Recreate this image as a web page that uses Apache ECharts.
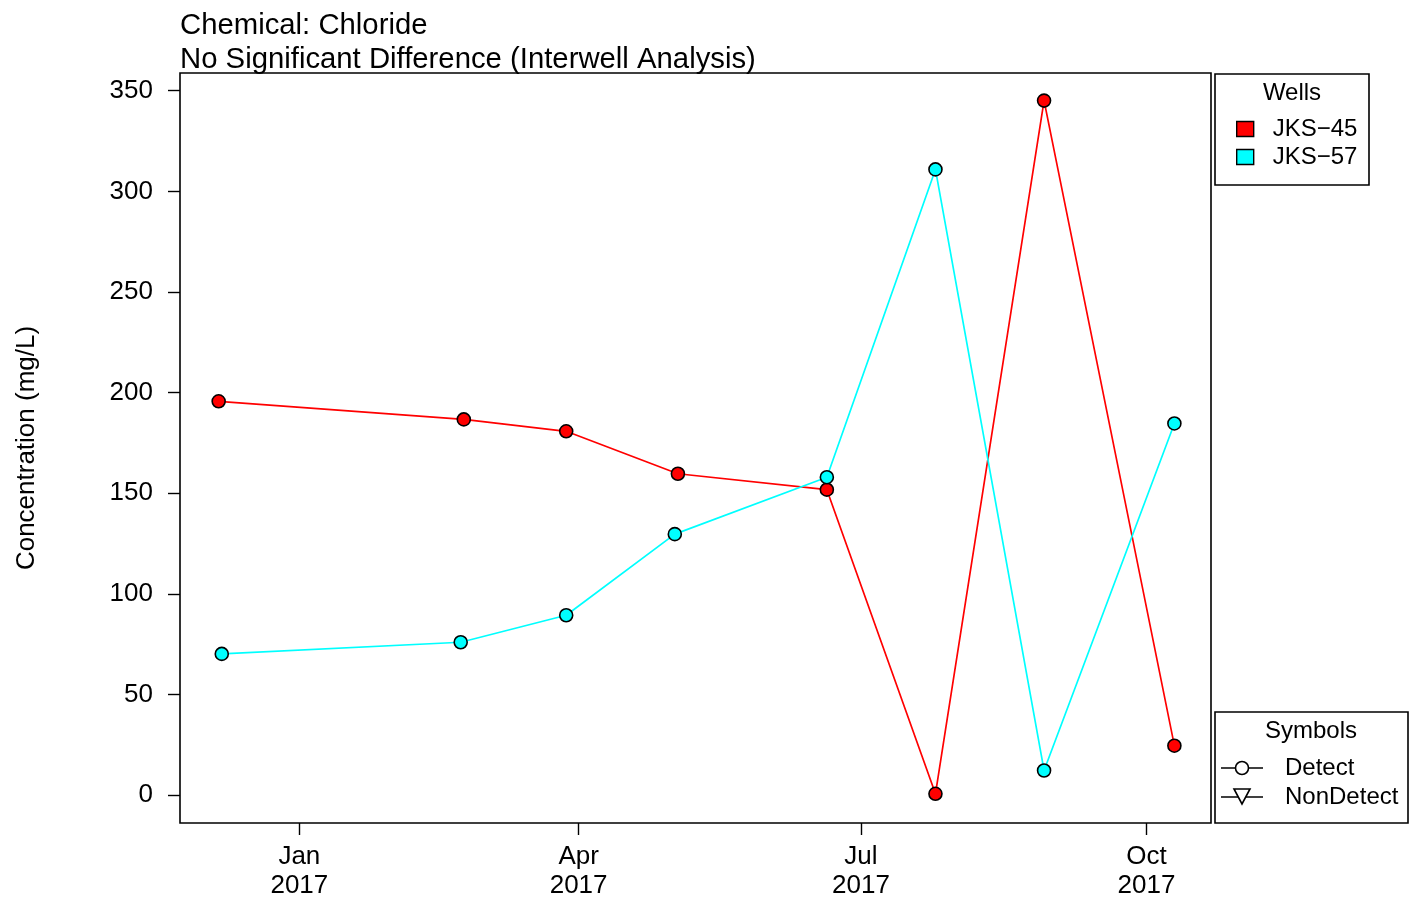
<!DOCTYPE html>
<html>
<head>
<meta charset="utf-8">
<script src="https://cdn.jsdelivr.net/npm/echarts@6/dist/echarts.min.js"></script>
<style>
html,body{margin:0;padding:0;background:#fff;}
#chart{width:1412px;height:898px;}
</style>
</head>
<body>
<div id="chart"></div>
<script>
// ---- data ----
const wellNames = ['JKS\u221245', 'JKS\u221257'];
const jks45Dates = ['2016-12-06','2017-02-23','2017-03-28','2017-05-03','2017-06-20','2017-07-25','2017-08-29','2017-10-10'];
const jks45Values = [195.7, 186.7, 180.8, 159.7, 151.8, 0.7, 345.1, 24.6];
const jks57Dates = ['2016-12-07','2017-02-22','2017-03-28','2017-05-02','2017-06-20','2017-07-25','2017-08-29','2017-10-10'];
const jks57Values = [70.2, 76.0, 89.4, 129.7, 158.0, 310.9, 12.3, 184.7];
const xTickDates = ['2017-01-01','2017-04-01','2017-07-01','2017-10-01'];
const xTickLabels = ['Jan\n2017','Apr\n2017','Jul\n2017','Oct\n2017'];
const yTickValues = [0, 50, 100, 150, 200, 250, 300, 350];
const titleLines = ['Chemical: Chloride', 'No Significant Difference (Interwell Analysis)'];
const yAxisTitle = 'Concentration (mg/L)';
const wellsLegendTitle = 'Wells';
const symbolsLegendTitle = 'Symbols';
const symbolLabels = ['Detect', 'NonDetect'];

// ---- helpers ----
function toMs(s){ const p = s.split('-').map(Number); return Date.UTC(p[0], p[1]-1, p[2]); }
const DAY = 86400000;
const xTickMs = xTickDates.map(toMs);
const xMin = xTickMs[0] - 38.46*DAY;
const xMax = xTickMs[0] + 293.8*DAY;

const FONT = '"Liberation Sans", Arial, Helvetica, sans-serif';

function mkSeries(name, dates, vals, color){
  return {
    name: name,
    type: 'line',
    data: dates.map((d,i)=>[toMs(d), vals[i]]),
    symbol: 'circle',
    symbolSize: 13,
    showSymbol: true,
    lineStyle: {color: color, width: 1.7},
    itemStyle: {color: color, borderColor: '#000', borderWidth: 1.6},
    emphasis: {disabled: true},
    animation: false,
    z: 3
  };
}

const chart = echarts.init(document.getElementById('chart'), null, {renderer: 'canvas'});
chart.setOption({
  animation: false,
  backgroundColor: '#fff',
  textStyle: {fontFamily: FONT},
  title: {
    text: titleLines.join('\n'),
    left: 180, top: 9, padding: 0,
    textStyle: {fontFamily: FONT, fontSize: 29.3, fontWeight: 'normal', color: '#000', lineHeight: 34}
  },
  grid: {
    left: 180, top: 73, right: 201, bottom: 75,
    containLabel: false,
    outerBoundsMode: 'none',
    show: true, borderColor: '#000', borderWidth: 1.6, backgroundColor: 'transparent'
  },
  xAxis: {
    type: 'value',
    min: xMin, max: xMax,
    axisLine: {show: false, onZero: false},
    splitLine: {show: false},
    axisTick: {show: true, customValues: xTickMs, length: 12, lineStyle: {color: '#000', width: 1.4}},
    axisLabel: {
      customValues: xTickMs,
      color: '#000', fontSize: 26, fontFamily: FONT, lineHeight: 29, margin: 19,
      formatter: function(v){
        let best = 0, bd = Infinity;
        xTickMs.forEach((t,i)=>{ const d = Math.abs(t - v); if(d < bd){bd = d; best = i;} });
        return xTickLabels[best];
      }
    }
  },
  yAxis: {
    type: 'value',
    min: -13.8, max: 358.8,
    name: yAxisTitle,
    nameLocation: 'middle',
    nameGap: 140,
    nameTextStyle: {fontSize: 26, fontFamily: FONT, color: '#000'},
    axisLine: {show: false, onZero: false},
    splitLine: {show: false},
    axisTick: {show: true, customValues: yTickValues, length: 12, lineStyle: {color: '#000', width: 1.4}},
    axisLabel: {customValues: yTickValues, color: '#000', fontSize: 26, fontFamily: FONT, margin: 27}
  },
  legend: {
    data: wellNames,
    orient: 'vertical',
    left: 1236, top: 115,
    padding: 0,
    icon: 'rect',
    itemWidth: 17, itemHeight: 15,
    itemGap: 0,
    selectedMode: false,
    itemStyle: {borderColor: '#000', borderWidth: 1.4},
    textStyle: {fontSize: 24, fontFamily: FONT, color: '#000', lineHeight: 28, padding: [0,0,0,14]}
  },
  graphic: [
    {type: 'rect', shape: {x: 1215, y: 74, width: 154, height: 111}, style: {fill: 'none', stroke: '#000', lineWidth: 1.6}, z: 1},
    {type: 'text', x: 1292, y: 93, style: {text: wellsLegendTitle, font: '24px ' + FONT, fill: '#000', align: 'center', verticalAlign: 'middle'}},
    {type: 'rect', shape: {x: 1215, y: 712, width: 193, height: 111}, style: {fill: 'none', stroke: '#000', lineWidth: 1.6}, z: 1},
    {type: 'text', x: 1311, y: 731, style: {text: symbolsLegendTitle, font: '24px ' + FONT, fill: '#000', align: 'center', verticalAlign: 'middle'}},
    {type: 'line', shape: {x1: 1221, y1: 768, x2: 1263, y2: 768}, style: {stroke: '#000', lineWidth: 1.6}},
    {type: 'circle', shape: {cx: 1242, cy: 768, r: 6.5}, style: {fill: '#fff', stroke: '#000', lineWidth: 1.6}, z: 2},
    {type: 'text', x: 1285, y: 768, style: {text: symbolLabels[0], font: '24px ' + FONT, fill: '#000', align: 'left', verticalAlign: 'middle'}},
    {type: 'line', shape: {x1: 1221, y1: 797, x2: 1263, y2: 797}, style: {stroke: '#000', lineWidth: 1.6}},
    {type: 'polygon', shape: {points: [[1234, 789], [1250, 789], [1242, 804]]}, style: {fill: '#fff', stroke: '#000', lineWidth: 1.6}, z: 2},
    {type: 'text', x: 1285, y: 797, style: {text: symbolLabels[1], font: '24px ' + FONT, fill: '#000', align: 'left', verticalAlign: 'middle'}}
  ],
  series: [
    mkSeries(wellNames[0], jks45Dates, jks45Values, '#ff0000'),
    mkSeries(wellNames[1], jks57Dates, jks57Values, '#00ffff')
  ]
});
</script>
</body>
</html>
